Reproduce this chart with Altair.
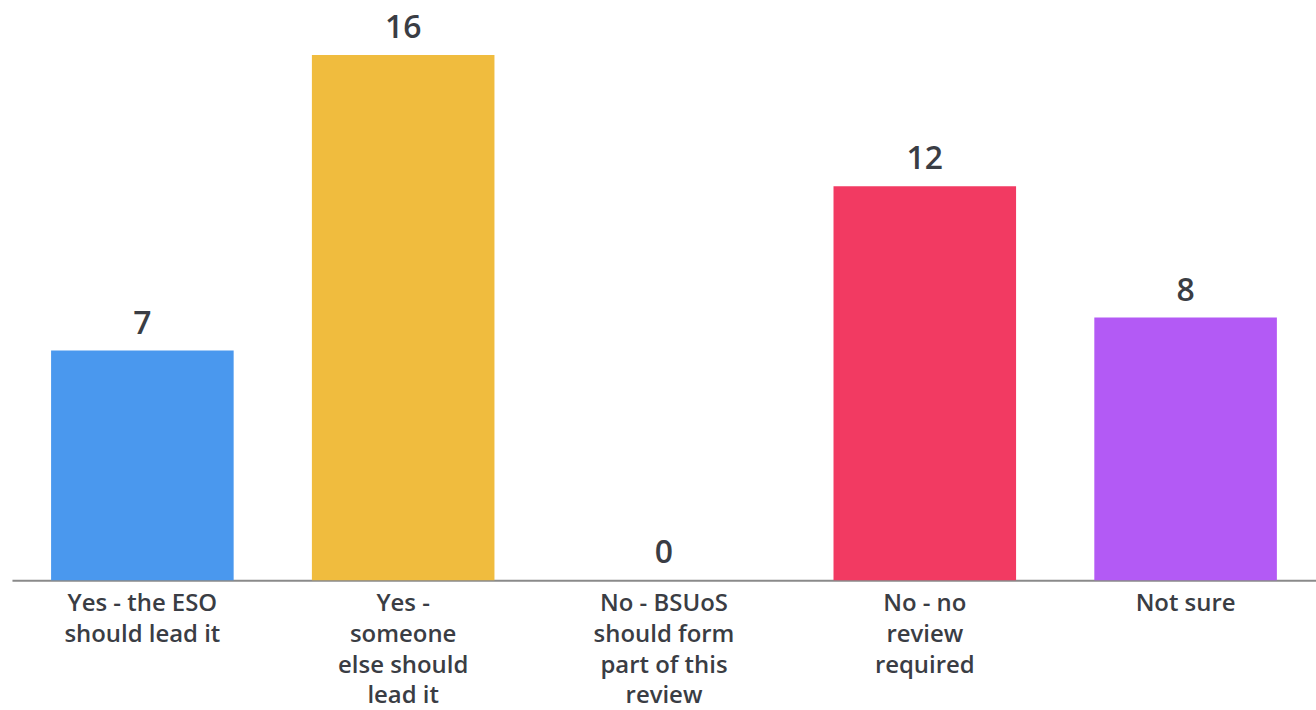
import altair as alt
import pandas as pd

categories = [
    "Yes - the ESO|should lead it",
    "Yes -|someone|else should|lead it",
    "No - BSUoS|should form|part of this|review",
    "No - no|review|required",
    "Not sure",
]
values = [7, 16, 0, 12, 8]
colors = ["#4A98EE", "#F0BC3E", "#F7F7F7", "#F23A62", "#B35AF5"]

df = pd.DataFrame({"cat": categories, "val": values, "color": colors})

FONT = "Open Sans"

x = alt.X(
    "cat:N",
    sort=categories,
    scale=alt.Scale(paddingInner=0.3, paddingOuter=0.15),
    axis=alt.Axis(
        title=None,
        labelAngle=0,
        labelExpr="split(datum.label, '|')",
        labelFont=FONT,
        labelFontSize=24,
        labelFontWeight=600,
        labelColor="#3a3d44",
        labelLineHeight=31,
        labelPadding=11,
        labelBaseline="top",
        ticks=False,
        domainColor="#8a8a8a",
        domainWidth=2,
        labelLimit=300,
    ),
)
y = alt.Y("val:Q", scale=alt.Scale(domain=[0, 16], nice=False), axis=None)

bars = alt.Chart(df).mark_bar().encode(
    x=x, y=y, color=alt.Color("color:N", scale=None)
)
text = alt.Chart(df).mark_text(
    dy=-10, baseline="bottom", font=FONT, fontSize=32, fontWeight=600, color="#3a3d44"
).encode(x=alt.X("cat:N", sort=categories), y=y, text="val:Q")

chart = (
    alt.layer(bars, text)
    .properties(
        width=1308,
        height=527,
        padding={"left": 12, "top": 11, "right": 0, "bottom": 0},
        background="white",
    )
    .configure_view(stroke=None)
)

chart.save("out.html", embed_options={"renderer": "svg", "actions": False})
